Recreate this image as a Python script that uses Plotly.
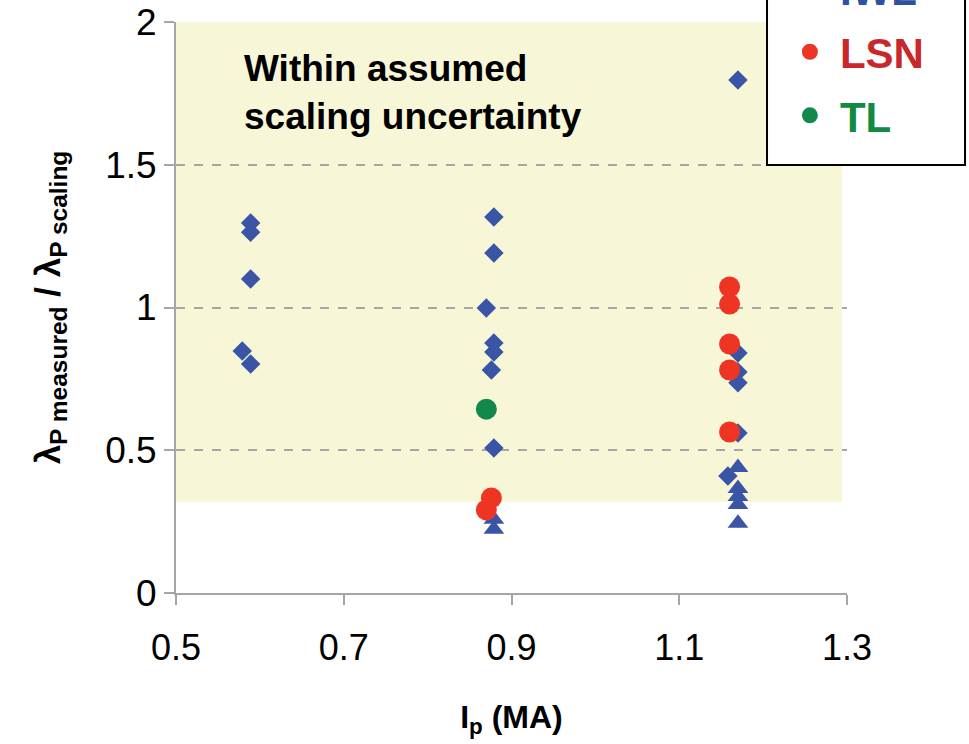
import plotly.graph_objects as go

# Plasma current (MA) and normalised decay length for each discharge group
iwl_ip = [0.589, 0.589, 0.589, 0.579, 0.589,
          0.879, 0.879, 0.870, 0.879, 0.879, 0.876, 0.879,
          1.170, 1.170, 1.170, 1.170, 1.170, 1.158]
iwl_ratio = [1.296, 1.264, 1.100, 0.848, 0.802,
             1.317, 1.191, 0.998, 0.876, 0.844, 0.781, 0.508,
             1.797, 0.841, 0.774, 0.736, 0.560, 0.410]

iwl_tri_ip = [0.879, 0.879, 1.170, 1.170, 1.170, 1.170, 1.170]
iwl_tri_ratio = [0.258, 0.223, 0.440, 0.366, 0.338, 0.310, 0.244]

lsn_ip = [0.876, 0.870, 1.160, 1.160, 1.160, 1.160, 1.160]
lsn_ratio = [0.333, 0.291, 1.072, 1.012, 0.872, 0.781, 0.564]

tl_ip = [0.870]
tl_ratio = [0.644]

# Band of values consistent with the scaling uncertainty
band_ip = [0.5, 1.294]
band_ratio = [0.32, 2.0]

x_ticks = [0.5, 0.7, 0.9, 1.1, 1.3]
y_ticks = [0, 0.5, 1, 1.5, 2]

BLUE = "#3A55A5"
RED = "#EE3524"
GREEN = "#12894A"
FONT = "Liberation Sans, Arial, sans-serif"

fig = go.Figure()

fig.add_trace(go.Scatter(
    x=iwl_ip, y=iwl_ratio, mode="markers",
    name="<span style='color:#3050A0'>IWL</span>", legendgroup="a",
    marker=dict(symbol="diamond", size=15, color=BLUE),
))
fig.add_trace(go.Scatter(
    x=iwl_tri_ip, y=iwl_tri_ratio, mode="markers", showlegend=False,
    marker=dict(symbol="triangle-up", size=18, color=BLUE),
))
fig.add_trace(go.Scatter(
    x=lsn_ip, y=lsn_ratio, mode="markers",
    name="<span style='color:#C8282C'>LSN</span>", legendgroup="b",
    marker=dict(symbol="circle", size=21, color=RED),
))
fig.add_trace(go.Scatter(
    x=tl_ip, y=tl_ratio, mode="markers",
    name="<span style='color:#138A43'>TL</span>", legendgroup="c",
    marker=dict(symbol="circle", size=21, color=GREEN),
))

# uncertainty band behind the points
fig.add_shape(
    type="rect", xref="x", yref="y",
    x0=band_ip[0], x1=band_ip[1], y0=band_ratio[0], y1=band_ratio[1],
    fillcolor="#F7F7D7", line=dict(width=0), layer="below",
)

# framed box holding the legend, running off the top edge
fig.add_shape(
    type="rect", xref="paper", yref="paper",
    x0=0.8808, x1=1.1759, y0=0.7496, y1=1.3,
    fillcolor="white", line=dict(color="#000000", width=2), layer="above",
)

fig.add_annotation(
    x=0.5, y=2, xref="x", yref="y", xshift=66, yshift=-24,
    xanchor="left", yanchor="top", align="left", showarrow=False,
    text="<b>Within assumed<br>scaling uncertainty</b>",
    font=dict(family=FONT, size=37, color="#000000"),
)

fig.update_layout(
    width=969, height=744,
    margin=dict(l=176, r=122, t=22, b=151, autoexpand=False),
    paper_bgcolor="white", plot_bgcolor="white",
    font=dict(family=FONT, size=30, color="#000000"),
    showlegend=True,
    legend=dict(
        x=0.900, xanchor="left", y=0.7770, yanchor="bottom",
        bgcolor="rgba(0,0,0,0)", borderwidth=0,
        font=dict(family=FONT, size=42, color="#000000", weight="bold"),
        traceorder="grouped", tracegroupgap=6, itemsizing="trace",
        itemwidth=50,
    ),
    xaxis=dict(
        range=[0.5, 1.3], tickvals=x_ticks, ticktext=[f"{v:g}" for v in x_ticks],
        showgrid=False, zeroline=False,
        showline=True, linecolor="#A6A6A6", linewidth=2,
        ticks="outside", ticklen=10, tickwidth=2, tickcolor="#A6A6A6",
        ticklabelstandoff=12,
        tickfont=dict(family=FONT, size=36, color="#000000"),
        title=dict(text="<b>I<sub>p</sub> (MA)</b>", standoff=38,
                   font=dict(family=FONT, size=32, color="#000000")),
    ),
    yaxis=dict(
        range=[0, 2], tickvals=y_ticks, ticktext=[f"{v:g}" for v in y_ticks],
        showgrid=True, gridcolor="#A6A6A6", gridwidth=2, griddash="dash",
        zeroline=False,
        showline=True, linecolor="#A6A6A6", linewidth=2,
        ticks="outside", ticklen=10, tickwidth=2, tickcolor="#A6A6A6",
        tickfont=dict(family=FONT, size=37, color="#000000"),
        title=dict(text="<b>λ<sub>P measured</sub> / λ<sub>P scaling</sub></b>",
                   standoff=34, font=dict(family=FONT, size=35, color="#000000")),
    ),
)

fig.write_html("out.html")
